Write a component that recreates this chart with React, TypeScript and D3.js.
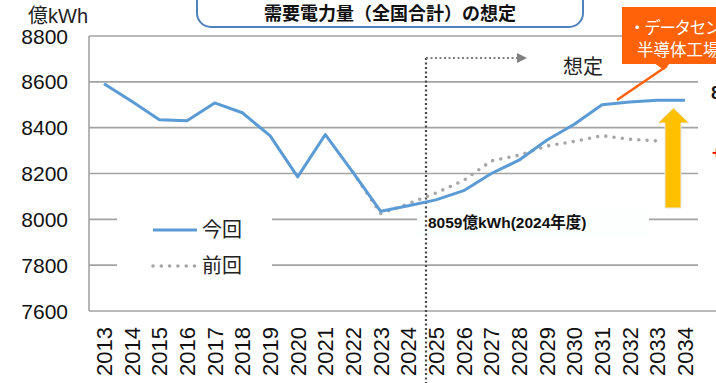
import React from "react";
import * as d3 from "d3";

const years = [
  "2013", "2014", "2015", "2016", "2017", "2018", "2019", "2020", "2021", "2022", "2023",
  "2024", "2025", "2026", "2027", "2028", "2029", "2030", "2031", "2032", "2033", "2034",
];
const currentValues = [
  8592, 8515, 8435, 8430, 8508, 8465, 8365, 8185, 8370, 8205, 8035,
  8059, 8085, 8125, 8200, 8258, 8345, 8415, 8500, 8512, 8520, 8520,
];
const previousYears = ["2022", "2023", "2024", "2025", "2026", "2027", "2028", "2029", "2030", "2031", "2032", "2033"];
const previousValues = [8205, 8025, 8068, 8115, 8170, 8255, 8280, 8320, 8340, 8365, 8350, 8342];
const yTicks = [7600, 7800, 8000, 8200, 8400, 8600, 8800];

const title = "需要電力量（全国合計）の想定";
const unitLabel = "億kWh";
const seriesNames = ["今回", "前回"];
const annotationText = "8059億kWh(2024年度)";
const forecastLabel = "想定";
const calloutLines = ["・データセンター", "半導体工場"];

const FONT = "'Liberation Sans', Arial, 'Noto Sans CJK JP', sans-serif";
const BLUE = "#5b9bd5";
const GRAY_DOT = "#a6a6a6";
const GRID = "#a3a3a3";
const ORANGE = "#ff6208";

export default function App() {
  const W = 716;
  const H = 383;
  const x = d3.scalePoint<string>().domain(years).range([104, 685]);
  const y = d3.scaleLinear().domain([7600, 8800]).range([311, 36]);
  const axisX = 89;

  const line = d3
    .line<[string, number]>()
    .x((d) => x(d[0]) as number)
    .y((d) => y(d[1]));

  const curPath = line(years.map((yr, i) => [yr, currentValues[i]]) as [string, number][]) || "";
  const prevPath = line(previousYears.map((yr, i) => [yr, previousValues[i]]) as [string, number][]) || "";

  const dividerX = 426;

  return (
    <svg
      width={W}
      height={H}
      style={{ position: "absolute", left: 0, top: 0, background: "#fff" }}
      fontFamily={FONT}
    >
      <rect x={0} y={0} width={W} height={H} fill="#fff" />
      {/* gridlines */}
      {yTicks.map((t) => (
        <line
          key={t}
          x1={axisX}
          x2={t === 8800 || t === 7600 ? W : 698}
          y1={y(t)}
          y2={y(t)}
          stroke={GRID}
          strokeWidth={1.6}
        />
      ))}
      <line x1={axisX} x2={axisX} y1={y(8800)} y2={y(7600)} stroke={GRID} strokeWidth={1.6} />

      {/* y tick labels */}
      {yTicks.map((t) => (
        <text key={t} x={68} y={y(t)} dy="0.36em" textAnchor="end" fontSize={21} fill="#111">
          {t}
        </text>
      ))}
      <text x={28} y={23} fontSize={20} fill="#222">
        {unitLabel}
      </text>

      {/* x labels */}
      {years.map((yr) => (
        <text
          key={yr}
          transform={`translate(${x(yr)},327) rotate(-90)`}
          dy="0.36em"
          textAnchor="end"
          fontSize={22}
          fill="#111"
        >
          {yr}
        </text>
      ))}

      {/* legend background */}
      <rect x={117} y={211} width={155} height={72} fill="#fff" />
      {/* annotation background */}
      <rect x={417} y={209} width={232} height={27} fill="#fdfefe" />

      {/* vertical divider */}
      <line
        x1={dividerX}
        x2={dividerX}
        y1={58}
        y2={H}
        stroke="#4a4a4a"
        strokeWidth={2.2}
        strokeDasharray="2 2.5"
      />
      <line x1={dividerX} x2={518} y1={58} y2={58} stroke="#808080" strokeWidth={2} strokeDasharray="2 2.5" />
      <path d="M517,53 L527,58 L517,63 Z" fill="#808080" />
      <text x={563} y={74} fontSize={20} fill="#222">
        {forecastLabel}
      </text>

      {/* data lines */}
      <path d={prevPath} fill="none" stroke={GRAY_DOT} strokeWidth={3.6} strokeDasharray="0 8.3" strokeLinecap="round" />
      <path d={curPath} fill="none" stroke={BLUE} strokeWidth={3} strokeLinejoin="round" />

      {/* annotation */}
      <text x={428} y={228} fontSize={15.5} fontWeight="bold" fill="#111">
        {annotationText}
      </text>

      {/* legend */}
      <line x1={153} x2={197} y1={230} y2={230} stroke={BLUE} strokeWidth={3} />
      <text x={202} y={230} dy="0.36em" fontSize={20} fill="#222">
        {seriesNames[0]}
      </text>
      <line x1={153} x2={197} y1={266} y2={266} stroke={GRAY_DOT} strokeWidth={3.6} strokeDasharray="0 8.3" strokeLinecap="round" />
      <text x={202} y={266} dy="0.36em" fontSize={20} fill="#222">
        {seriesNames[1]}
      </text>

      {/* yellow arrow */}
      <path
        d="M665,208 L665,123 L658,123 L673.5,108 L689,123 L681,123 L681,208 Z"
        fill="#ffc000"
        stroke="#e6e6e6"
        strokeWidth={1}
      />

      {/* callout */}
      <line x1={617} y1={100} x2={667} y2={66} stroke={ORANGE} strokeWidth={2.5} />
      <rect x={622} y={7} width={110} height={57} fill={ORANGE} />
      <path d="M654,63 L670,63 L664,70 Z" fill={ORANGE} />
      <text x={629} y={34} fontSize={16.5} fill="#fff" letterSpacing={-1.3}>
        {calloutLines[0]}
      </text>
      <text x={637} y={56} fontSize={16.5} fill="#fff">
        {calloutLines[1]}
      </text>

      {/* clipped right-edge texts */}
      <text x={711} y={99} fontSize={18} fontWeight="bold" fill="#111">
        8
      </text>
      <text x={712} y={158} fontSize={16} fontWeight="bold" fill="#e00">
        +
      </text>

      {/* title */}
      <rect x={197} y={-12} width={386} height={39} rx={14} ry={14} fill="#fff" stroke="#4f81bd" strokeWidth={2} />
      <text x={390} y={14} dy="0.36em" textAnchor="middle" fontSize={18} fontWeight="bold" fill="#111">
        {title}
      </text>
    </svg>
  );
}
